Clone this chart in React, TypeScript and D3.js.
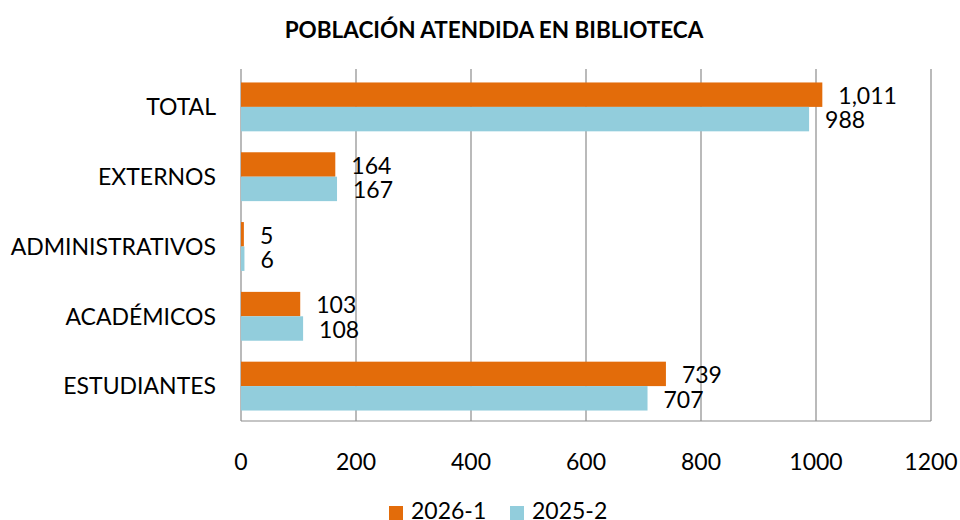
import React, { useEffect, useRef } from "react";
import * as d3 from "d3";

const categories = ["TOTAL", "EXTERNOS", "ADMINISTRATIVOS", "ACADÉMICOS", "ESTUDIANTES"];
const series = ["2026-1", "2025-2"];
const values2026 = [1011, 164, 5, 103, 739];
const values2025 = [988, 167, 6, 108, 707];
const xTicks = [0, 200, 400, 600, 800, 1000, 1200];
const colors = ["#E36C0A", "#92CDDC"];

const FONT = "Lato, 'Open Sans', sans-serif";

const App = () => {
  const svgRef = useRef<SVGSVGElement>(null);

  useEffect(() => {
    const svg = d3.select(svgRef.current);
    svg.selectAll("*").remove();

    const left = 241;
    const right = 931;
    const top = 72;
    const bottom = 421;

    const xScale = d3.scaleLinear().domain([0, 1200]).range([left, right]);
    const yScale = d3.scaleBand().domain(categories).range([top, bottom]).paddingInner(0.3).paddingOuter(0.15);
    const inner = d3.scaleBand().domain(series).range([0, yScale.bandwidth()]);

    // title
    svg
      .append("text")
      .attr("x", 494)
      .attr("y", 38)
      .attr("text-anchor", "middle")
      .style("font-family", FONT)
      .style("font-weight", "bold")
      .style("font-size", "22.5px")
      .text("POBLACIÓN ATENDIDA EN BIBLIOTECA");

    // grid
    svg
      .append("g")
      .selectAll("line")
      .data(xTicks)
      .join("line")
      .attr("x1", (d) => xScale(d))
      .attr("x2", (d) => xScale(d))
      .attr("y1", top - 3)
      .attr("y2", bottom)
      .attr("stroke", "#8c8c8c")
      .attr("stroke-width", 1.2);

    svg
      .append("line")
      .attr("x1", left)
      .attr("x2", right)
      .attr("y1", bottom)
      .attr("y2", bottom)
      .attr("stroke", "#8c8c8c")
      .attr("stroke-width", 1.2);

    const data = categories.map((c, i) => ({ c, vals: [values2026[i], values2025[i]] }));

    const groups = svg
      .append("g")
      .selectAll("g")
      .data(data)
      .join("g")
      .attr("transform", (d) => `translate(0,${yScale(d.c)})`);

    groups
      .selectAll("rect")
      .data((d) => d.vals.map((v, j) => ({ v, s: series[j], j })))
      .join("rect")
      .attr("x", xScale(0))
      .attr("y", (d) => inner(d.s)!)
      .attr("width", (d) => xScale(d.v) - xScale(0))
      .attr("height", inner.bandwidth())
      .attr("fill", (d) => colors[d.j]);

    const fmt = d3.format(",");
    groups
      .selectAll("text")
      .data((d) => d.vals.map((v, j) => ({ v, s: series[j], j })))
      .join("text")
      .attr("x", (d) => xScale(d.v) + 16)
      .attr("y", (d) => inner(d.s)! + inner.bandwidth() / 2 + 1)
      .attr("dy", "0.36em")
      .style("font-family", FONT)
      .style("font-size", "23px")
      .attr("fill", "#000")
      .text((d) => fmt(d.v));

    // category labels
    svg
      .append("g")
      .selectAll("text")
      .data(categories)
      .join("text")
      .attr("x", 216)
      .attr("y", (d) => yScale(d)! + yScale.bandwidth() / 2)
      .attr("dy", "0.36em")
      .attr("text-anchor", "end")
      .style("font-family", FONT)
      .style("font-size", "23px")
      .text((d) => d);

    // x tick labels
    svg
      .append("g")
      .selectAll("text")
      .data(xTicks)
      .join("text")
      .attr("x", (d) => xScale(d))
      .attr("y", 462)
      .attr("dy", "0.36em")
      .attr("text-anchor", "middle")
      .style("font-family", FONT)
      .style("font-size", "23px")
      .text((d) => d);

    // legend
    const legend = svg.append("g").attr("transform", "translate(389,506)");
    const items = [
      { s: series[0], x: 0 },
      { s: series[1], x: 121 },
    ];
    legend
      .selectAll("rect")
      .data(items)
      .join("rect")
      .attr("x", (d) => d.x)
      .attr("y", 0)
      .attr("width", 14)
      .attr("height", 14)
      .attr("fill", (d, i) => colors[i]);
    legend
      .selectAll("text")
      .data(items)
      .join("text")
      .attr("x", (d) => d.x + 22)
      .attr("y", 13)
      .style("font-family", FONT)
      .style("font-size", "23px")
      .text((d) => d.s);
  }, []);

  return (
    <svg
      ref={svgRef}
      width={960}
      height={520}
      style={{ position: "absolute", left: 0, top: 0, background: "#fff" }}
    />
  );
};

export default App;
